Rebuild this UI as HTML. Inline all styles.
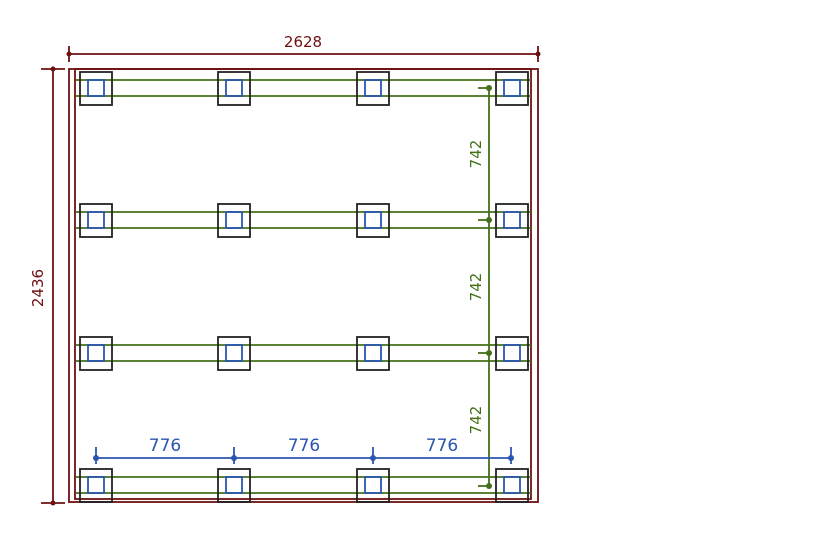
<!DOCTYPE html>
<html><head><style>html,body{margin:0;padding:0;background:#fff}</style></head><body>
<svg width="825" height="550" viewBox="0 0 825 550" xmlns="http://www.w3.org/2000/svg" font-family="DejaVu Sans, Liberation Sans, sans-serif">
<g stroke="#6e1010" stroke-width="1.8" fill="none">
<rect x="69" y="69" width="469" height="433"/>
<rect x="75" y="69" width="456" height="430"/>
<line x1="69" y1="54" x2="538" y2="54"/>
<line x1="69" y1="46" x2="69" y2="62"/><line x1="538" y1="46" x2="538" y2="62"/>
<line x1="53" y1="69" x2="53" y2="503"/>
<line x1="41" y1="69" x2="65" y2="69"/><line x1="41" y1="503" x2="65" y2="503"/>
</g>
<g fill="#6e1010"><circle cx="69" cy="54" r="2.5"/><circle cx="538" cy="54" r="2.5"/><circle cx="53" cy="69" r="2.5"/><circle cx="53" cy="503" r="2.5"/></g>
<text x="303" y="47" font-size="15" fill="#6e1010" text-anchor="middle">2628</text>
<text transform="translate(43,288) rotate(-90)" font-size="15" fill="#6e1010" text-anchor="middle">2436</text>
<g stroke="#437018" stroke-width="1.8">
<line x1="76" y1="80" x2="531" y2="80"/><line x1="76" y1="96" x2="531" y2="96"/>
<line x1="76" y1="212" x2="531" y2="212"/><line x1="76" y1="228" x2="531" y2="228"/>
<line x1="76" y1="345" x2="531" y2="345"/><line x1="76" y1="361" x2="531" y2="361"/>
<line x1="76" y1="477" x2="531" y2="477"/><line x1="76" y1="493" x2="531" y2="493"/>
<line x1="489" y1="88" x2="489" y2="486"/>
<line x1="478" y1="88" x2="489" y2="88"/><line x1="478" y1="220" x2="489" y2="220"/>
<line x1="478" y1="353" x2="489" y2="353"/><line x1="478" y1="486" x2="489" y2="486"/>
</g>
<g fill="#437018"><circle cx="489" cy="88" r="3"/><circle cx="489" cy="220" r="3"/><circle cx="489" cy="353" r="3"/><circle cx="489" cy="486" r="3"/></g>
<g font-size="15" fill="#437018" text-anchor="middle">
<text transform="translate(481,154) rotate(-90)">742</text>
<text transform="translate(481,287) rotate(-90)">742</text>
<text transform="translate(481,420) rotate(-90)">742</text>
</g>
<g fill="none" stroke-width="1.8">
<g stroke="#222">
<rect x="80" y="72" width="32" height="33"/><rect x="218" y="72" width="32" height="33"/><rect x="357" y="72" width="32" height="33"/><rect x="496" y="72" width="32" height="33"/>
<rect x="80" y="204" width="32" height="33"/><rect x="218" y="204" width="32" height="33"/><rect x="357" y="204" width="32" height="33"/><rect x="496" y="204" width="32" height="33"/>
<rect x="80" y="337" width="32" height="33"/><rect x="218" y="337" width="32" height="33"/><rect x="357" y="337" width="32" height="33"/><rect x="496" y="337" width="32" height="33"/>
<rect x="80" y="469" width="32" height="33"/><rect x="218" y="469" width="32" height="33"/><rect x="357" y="469" width="32" height="33"/><rect x="496" y="469" width="32" height="33"/>
</g>
<g stroke="#2a55b0">
<rect x="88" y="80" width="16" height="16"/><rect x="226" y="80" width="16" height="16"/><rect x="365" y="80" width="16" height="16"/><rect x="504" y="80" width="16" height="16"/>
<rect x="88" y="212" width="16" height="16"/><rect x="226" y="212" width="16" height="16"/><rect x="365" y="212" width="16" height="16"/><rect x="504" y="212" width="16" height="16"/>
<rect x="88" y="345" width="16" height="16"/><rect x="226" y="345" width="16" height="16"/><rect x="365" y="345" width="16" height="16"/><rect x="504" y="345" width="16" height="16"/>
<rect x="88" y="477" width="16" height="16"/><rect x="226" y="477" width="16" height="16"/><rect x="365" y="477" width="16" height="16"/><rect x="504" y="477" width="16" height="16"/>
</g>
</g>
<g stroke="#2a55b0" stroke-width="1.8">
<line x1="96" y1="458" x2="511" y2="458"/>
<line x1="96" y1="447" x2="96" y2="464"/><line x1="234" y1="447" x2="234" y2="464"/>
<line x1="373" y1="447" x2="373" y2="464"/><line x1="511" y1="447" x2="511" y2="464"/>
</g>
<g fill="#2a55b0"><circle cx="96" cy="458" r="3"/><circle cx="234" cy="458" r="3"/><circle cx="373" cy="458" r="3"/><circle cx="511" cy="458" r="3"/></g>
<g font-size="17" fill="#2a55b0" text-anchor="middle">
<text x="165" y="451">776</text><text x="304" y="451">776</text><text x="442" y="451">776</text>
</g>
</svg>
</body></html>
